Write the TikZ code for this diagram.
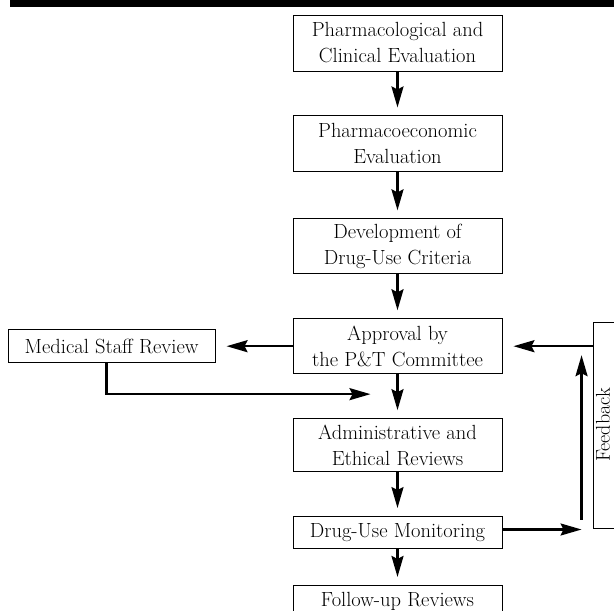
\documentclass[tikz,border=0pt]{standalone}
\usepackage{fontspec}
\usetikzlibrary{arrows.meta, positioning, calc}

\begin{document}
\begin{tikzpicture}[x=1pt, y=-1pt, node distance=44pt,
  box/.style={draw, line width=0.9pt, minimum width=209pt, minimum height=55pt, align=center, inner sep=2pt, font=\fontsize{20.5}{26}\selectfont},
  arr/.style={-{Stealth[length=21pt, width=12pt, inset=3pt]}, line width=2.4pt, shorten >=8pt}]
  \useasboundingbox (0,0) rectangle (614,611);
  \fill (10,0) rectangle (614,7);
  % main column
  \node (pharm) [box, minimum height=56pt] at (397.5,43) {Pharmacological and\\Clinical Evaluation};
  \node (econ) [box, minimum height=56pt, below=of pharm] {Pharmacoeconomic\\Evaluation};
  \node (crit) [box, below=46pt of econ] {Development of\\Drug-Use Criteria};
  \node (appr) [box, below=of crit] {Approval by\\the P\&T Committee};
  \node (admin) [box, minimum height=53pt, below=of appr] {Administrative and\\Ethical Reviews};
  \node (mon) [box, minimum height=32pt, below=of admin] {Drug-Use Monitoring};
  \node (follow) [box, minimum height=32pt, below=36pt of mon] {Follow-up Reviews};
  % side boxes
  \node (med) [box, minimum width=207pt, minimum height=33pt, left=77pt of appr] {Medical Staff Review};
  \node (fb) [draw, line width=0.9pt, minimum width=26pt, minimum height=206pt, inner sep=0pt] at (606,425) {};
  \node (fbtext) [font=\fontsize{20}{24}\selectfont, rotate=90, inner sep=0pt] at ([xshift=-3pt]fb.center) {Feedback};
  \coordinate (join) at ([xshift=-27pt, yshift=-20pt]appr.south);

  \draw[arr] (pharm) -- (econ);
  \draw[arr] (econ) -- (crit);
  \draw[arr] (crit) -- (appr);
  \draw[arr] (appr) -- (admin);
  \draw[arr] (admin) -- (mon);
  \draw[arr] (mon) -- (follow);
  \draw[arr, shorten >=11pt] (appr.west) -- (appr.west -| med.east);
  \draw[arr, shorten >=0pt] ([xshift=-5pt]med.south) |- (join);
  % feedback loop
  \draw[arr, shorten >=0pt] ([yshift=3pt]mon.east) -- ([xshift=-11pt, yshift=3pt]mon.east -| fb.west);
  \draw[arr, shorten >=0pt] ([xshift=-11pt, yshift=13pt]mon.east -| fb.west) -- ([xshift=-11pt, yshift=-9pt]appr.east -| fb.west);
  \draw[arr, shorten >=11pt] (appr.east -| fb.west) -- (appr.east);
\end{tikzpicture}
\end{document}
